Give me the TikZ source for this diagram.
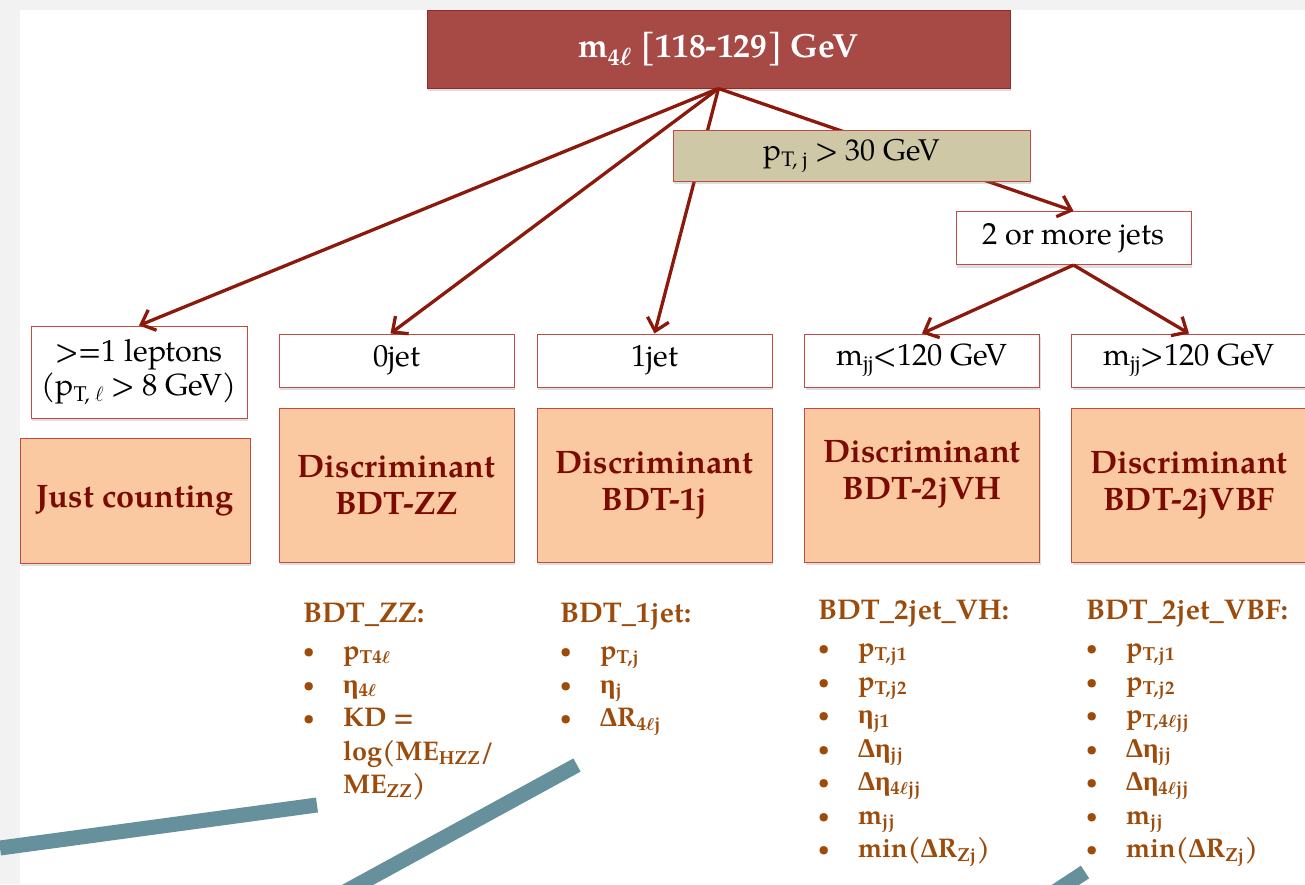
\documentclass[tikz,border=0pt]{standalone}
\usepackage{fontspec}
\setmainfont{texgyrepagella}[Extension=.otf,UprightFont=*-regular,BoldFont=*-bold,ItalicFont=*-italic,BoldItalicFont=*-bolditalic]
\newfontfamily\grk{Liberation Serif}
\usepackage{tikz}
\usetikzlibrary{arrows.meta,shadows}

\definecolor{pagegray}{HTML}{F2F2F2}
\definecolor{topred}{HTML}{A74A45}
\definecolor{topline}{HTML}{8C2D26}
\definecolor{boxline}{HTML}{BE4B44}
\definecolor{arrred}{HTML}{8B1A0C}
\definecolor{khaki}{HTML}{CEC8A7}
\definecolor{discfill}{HTML}{FBC9A1}
\definecolor{discred}{HTML}{7A0A02}
\definecolor{varbrown}{HTML}{9C4B0B}
\definecolor{tealbar}{HTML}{66909B}

\newcommand\sub[1]{\textsubscript{#1}}
\newcommand\lep{$\ell$}
\newcommand\itm{\raisebox{2pt}{\fontsize{19}{19}\selectfont\textbullet}}
\newcommand\hd[1]{\multicolumn{2}{@{}l@{}}{\fontsize{28.5}{33.5}\selectfont #1}}

\tikzset{
  shad/.style={drop shadow={opacity=0.25,shadow xshift=1pt,shadow yshift=-3pt}},
  topbox/.style={shad,draw=topline,fill=topred,text=white,line width=1pt,
    minimum width=583pt,minimum height=78pt,inner sep=0pt,
    font=\bfseries\boldmath\fontsize{33.5}{38}\selectfont},
  cutbox/.style={shad,draw=boxline,fill=white,line width=1pt,minimum width=235pt,
    minimum height=53pt,inner sep=0pt,align=center,font=\fontsize{30.5}{34}\selectfont},
  discbox/.style={shad,draw=boxline,fill=discfill,text=discred,line width=1pt,
    minimum width=235pt,minimum height=154pt,inner sep=0pt,align=center,
    font=\bfseries\fontsize{32.5}{37}\selectfont},
  arr/.style={draw=arrred,line width=3.3pt,-{Straight Barb[length=12pt,width=22pt]}},
  vars/.style={anchor=base west,inner sep=0pt,text=varbrown,
    font=\bfseries\boldmath\fontsize{27}{33.5}\selectfont},
  bar/.style={draw=tealbar,line width=15pt}
}

\begin{document}
\begin{tikzpicture}[x=1pt,y=-1pt]
  \clip (0,0) rectangle (1305,884);
  \fill[pagegray] (0,0) rectangle (1305,884);
  \fill[white] (20,10) rectangle (1305,884);

  \node[topbox] (top) at (718.5,49) {m\sub{4\lep} [118-129] GeV};
  \node[cutbox,minimum width=235pt] (more) at (1073.5,238) {2 or more jets};

  \node[cutbox,minimum width=216pt,minimum height=92pt] (lep) at (139,372)
    {>=1 leptons\\(p\sub{T, \lep} > 8 GeV)};
  \node[cutbox] (jet0) at (396.5,360.5) {0jet};
  \node[cutbox] (jet1) at (654.5,360.5) {1jet};
  \node[cutbox] (vh) at (922,360.5) {m\sub{jj}<120 GeV};
  \node[cutbox] (vbf) at (1189,360.5) {m\sub{jj}>120 GeV};

  \node[discbox,minimum width=230pt,minimum height=125pt] (count) at (135,500.5) {Just counting};
  \node[discbox] (bzz) at (396.5,485) {Discriminant\\BDT-ZZ};
  \node[discbox] (b1j) at (654.5,485) {Discriminant\\BDT-1j};
  \node[discbox] (bvh) at (922,485) {Discriminant\\BDT-2jVH\\[-6pt]\mbox{}};
  \node[discbox] (bvbf) at (1189,485) {Discriminant\\BDT-2jVBF};

  \draw[arr] (top.south) -- (lep.north);
  \draw[arr] (top.south) -- ([xshift=-6pt]jet0.north);
  \draw[arr] (top.south) -- (jet1.north);
  \draw[arr] (top.south) -- (more.north);
  \draw[arr] (more.south) -- (vh.north);
  \draw[arr] (more.south) -- (vbf.north);

  \node[shad,draw=boxline,fill=khaki,line width=1pt,minimum width=357pt,minimum height=51pt,
    inner sep=0pt,font=\fontsize{30}{34}\selectfont] (ptj) at (851.5,155.5)
    {p\sub{T, j} > 30 GeV};

  \node[vars] (lzz) at (303,622) {\begin{tabular}[t]{@{}p{40pt}@{}l@{}}
    \hd{BDT\_ZZ:}\\[4pt]
    \itm & p\sub{T4\lep}\\
    \itm & {\grk η}\sub{4\lep}\\
    \itm & KD =\\
     & log(ME\sub{HZZ}/\\
     & ME\sub{ZZ})
  \end{tabular}};
  \node[vars] (l1j) at (560,622) {\begin{tabular}[t]{@{}p{40pt}@{}l@{}}
    \hd{BDT\_1jet:}\\[4pt]
    \itm & p\sub{T,j}\\
    \itm & {\grk η}\sub{j}\\
    \itm & {\grk Δ}R\sub{4\lep j}
  \end{tabular}};
  \node[vars] (lvh) at (818,619) {\begin{tabular}[t]{@{}p{40pt}@{}l@{}}
    \hd{BDT\_2jet\_VH:}\\[4pt]
    \itm & p\sub{T,j1}\\
    \itm & p\sub{T,j2}\\
    \itm & {\grk η}\sub{j1}\\
    \itm & {\grk Δη}\sub{jj}\\
    \itm & {\grk Δη}\sub{4\lep jj}\\
    \itm & m\sub{jj}\\
    \itm & min({\grk Δ}R\sub{Zj})
  \end{tabular}};
  \node[vars] (lvbf) at (1086,619) {\begin{tabular}[t]{@{}p{40pt}@{}l@{}}
    \hd{BDT\_2jet\_VBF:}\\[4pt]
    \itm & p\sub{T,j1}\\
    \itm & p\sub{T,j2}\\
    \itm & p\sub{T,4\lep jj}\\
    \itm & {\grk Δη}\sub{jj}\\
    \itm & {\grk Δη}\sub{4\lep jj}\\
    \itm & m\sub{jj}\\
    \itm & min({\grk Δ}R\sub{Zj})
  \end{tabular}};

  \draw[bar] (0,848) -- (317,805);
  \draw[bar] (577,765) -- (330,900);
  \draw[bar] (1085,872) -- (1050,895);
\end{tikzpicture}
\end{document}
